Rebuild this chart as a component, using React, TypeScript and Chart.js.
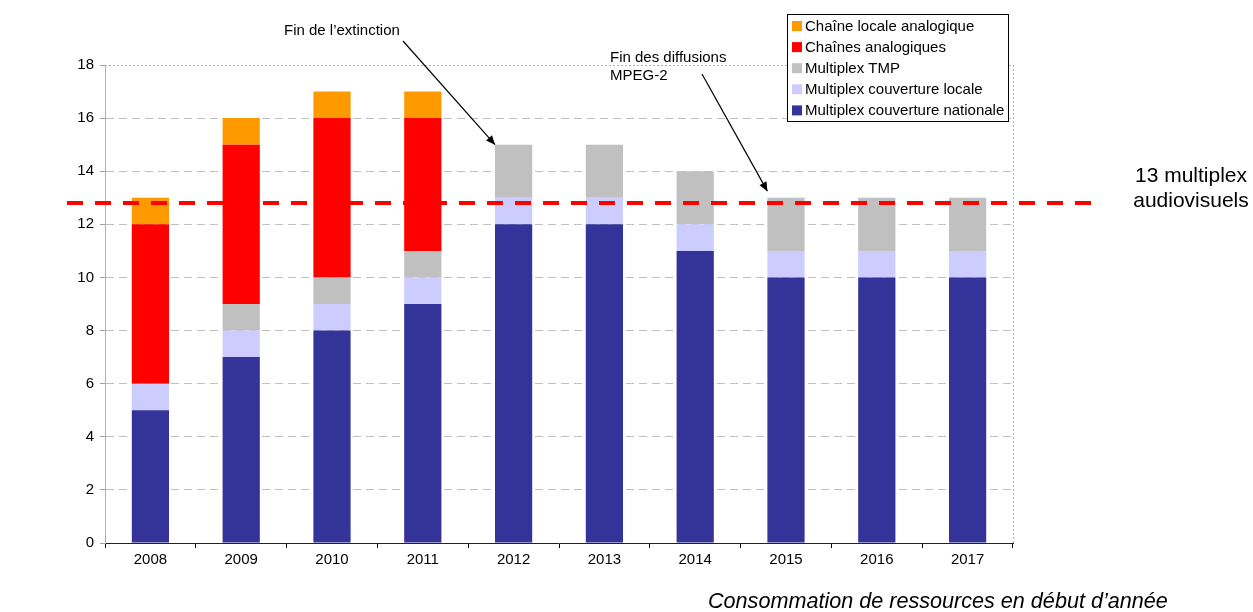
import React, { useEffect, useRef } from "react";
import { Chart, registerables } from "chart.js";

Chart.register(...registerables);

const years = ["2008", "2009", "2010", "2011", "2012", "2013", "2014", "2015", "2016", "2017"];
const nationale = [5, 7, 8, 9, 12, 12, 11, 10, 10, 10];
const locale = [1, 1, 1, 1, 1, 1, 1, 1, 1, 1];
const tmp = [0, 1, 1, 1, 2, 2, 2, 2, 2, 2];
const analogiques = [6, 6, 6, 5, 0, 0, 0, 0, 0, 0];
const localeAnalogique = [1, 1, 1, 1, 0, 0, 0, 0, 0, 0];
const seriesNames = [
  "Multiplex couverture nationale",
  "Multiplex couverture locale",
  "Multiplex TMP",
  "Chaînes analogiques",
  "Chaîne locale analogique",
];
const seriesColors = ["#333399", "#CCCCFF", "#C0C0C0", "#FF0000", "#FF9900"];
const referenceLevel = 12.8;
const referenceLabel = ["13 multiplex", "audiovisuels"];
const footnote = "Consommation de ressources en début d’année";
const FONT = "'Liberation Sans', Arial, sans-serif";

const overlay = {
  id: "overlay",
  afterDraw(chart: any) {
    const ctx = chart.ctx as CanvasRenderingContext2D;
    const { left, right, top, bottom } = chart.chartArea;
    const x = chart.scales.x;
    const y = chart.scales.y;
    ctx.save();
    // dotted top & right border
    ctx.strokeStyle = "#B0B0B0";
    ctx.lineWidth = 1;
    ctx.setLineDash([2, 2]);
    ctx.beginPath();
    ctx.moveTo(left, top + 0.5);
    ctx.lineTo(right, top + 0.5);
    ctx.moveTo(right + 0.5, top);
    ctx.lineTo(right + 0.5, bottom);
    ctx.stroke();

    // reference dashed red line
    const yr = y.getPixelForValue(referenceLevel);
    ctx.strokeStyle = "#FF0000";
    ctx.lineWidth = 4;
    ctx.setLineDash([16, 12]);
    ctx.beginPath();
    ctx.moveTo(67, yr);
    ctx.lineTo(1091, yr);
    ctx.stroke();
    ctx.setLineDash([]);

    ctx.fillStyle = "#000";
    ctx.font = `21px ${FONT}`;
    ctx.textAlign = "center";
    ctx.textBaseline = "middle";
    ctx.fillText(referenceLabel[0], 1191, 176);
    ctx.fillText(referenceLabel[1], 1191, 201);

    // annotations
    const arrow = (x1: number, y1: number, x2: number, y2: number) => {
      ctx.strokeStyle = "#000";
      ctx.fillStyle = "#000";
      ctx.lineWidth = 1.2;
      ctx.beginPath();
      ctx.moveTo(x1, y1);
      ctx.lineTo(x2, y2);
      ctx.stroke();
      const a = Math.atan2(y2 - y1, x2 - x1);
      const L = 9, W = 4;
      ctx.beginPath();
      ctx.moveTo(x2, y2);
      ctx.lineTo(x2 - L * Math.cos(a) + W * Math.sin(a), y2 - L * Math.sin(a) - W * Math.cos(a));
      ctx.lineTo(x2 - L * Math.cos(a) - W * Math.sin(a), y2 - L * Math.sin(a) + W * Math.cos(a));
      ctx.closePath();
      ctx.fill();
    };
    const bw = (x.getPixelForValue(1) - x.getPixelForValue(0)) * 0.41;
    arrow(403, 41, x.getPixelForValue(4) - bw / 2, y.getPixelForValue(15));
    arrow(702, 74, x.getPixelForValue(7) - bw / 2, y.getPixelForValue(13.25));

    ctx.fillStyle = "#000";
    ctx.font = `15px ${FONT}`;
    ctx.textAlign = "left";
    ctx.textBaseline = "middle";
    ctx.fillText("Fin de l’extinction", 284, 31);
    ctx.fillText("Fin des diffusions", 610, 58);
    ctx.fillText("MPEG-2", 610, 76);

    // footnote
    ctx.font = `italic 21.6px ${FONT}`;
    ctx.textAlign = "left";
    ctx.fillText(footnote, 708, 602);

    // legend
    const lx = 787, ly = 14, lw = 221, lh = 107;
    ctx.fillStyle = "#fff";
    ctx.fillRect(lx, ly, lw, lh);
    ctx.strokeStyle = "#000";
    ctx.lineWidth = 1;
    ctx.strokeRect(lx + 0.5, ly + 0.5, lw, lh);
    ctx.font = `15px ${FONT}`;
    for (let i = 0; i < seriesNames.length; i++) {
      const idx = seriesNames.length - 1 - i;
      const cy = 26 + i * 21.1;
      ctx.fillStyle = seriesColors[idx];
      ctx.fillRect(lx + 5, cy - 5, 10, 10);
      ctx.fillStyle = "#000";
      ctx.fillText(seriesNames[idx], lx + 18, cy + 0.5);
    }
    ctx.restore();
  },
};

export default function App() {
  const ref = useRef<HTMLCanvasElement>(null);
  useEffect(() => {
    const values = [nationale, locale, tmp, analogiques, localeAnalogique];
    const chart = new Chart(ref.current!, {
      type: "bar",
      data: {
        labels: years,
        datasets: values.map((d, i) => ({
          label: seriesNames[i],
          data: d,
          backgroundColor: seriesColors[i],
          borderWidth: 0,
          barPercentage: 0.41,
          categoryPercentage: 1,
        })),
      },
      options: {
        animation: false,
        responsive: false,
        maintainAspectRatio: false,
        layout: { padding: { left: 0, right: 240, top: 65, bottom: 39 } },
        plugins: { legend: { display: false }, tooltip: { enabled: false }, title: { display: false } },
        scales: {
          x: {
            stacked: true,
            offset: true,
            grid: {
              display: true,
              offset: true,
              drawOnChartArea: false,
              tickLength: 5,
              tickColor: "#000",
            },
            border: { display: true, color: "#222", width: 1 },
            ticks: { color: "#000", font: { family: FONT, size: 15 }, padding: 3 },
            afterFit: (s: any) => { s.height = 30; },
          },
          y: {
            stacked: true,
            min: 0,
            max: 18,
            ticks: { stepSize: 2, color: "#000", font: { family: FONT, size: 15 }, padding: 6 },
            grid: {
              color: (c: any) => (c.tick && (c.tick.value === 0 || c.tick.value === 18) ? "rgba(0,0,0,0)" : "#C0C0C0"),
              tickColor: "#A0A0A0",
              tickLength: 5,
              tickBorderDash: [],
            },
            border: { display: true, color: "#B0B0B0", dash: [8, 5] },
            afterFit: (s: any) => { s.width = 105; },
          },
        },
      },
      plugins: [
        {
          id: "dashGrid",
          beforeDraw(chart: any) {
            chart.options.scales.y.grid.borderDash = [8, 5];
          },
        },
        overlay,
      ],
    } as any);
    return () => chart.destroy();
  }, []);
  return (
    <div style={{ position: "fixed", left: 0, top: 0, width: 1253, height: 612, background: "#fff" }}>
      <canvas ref={ref} width={1253} height={612} style={{ width: 1253, height: 612 }} />
    </div>
  );
}
